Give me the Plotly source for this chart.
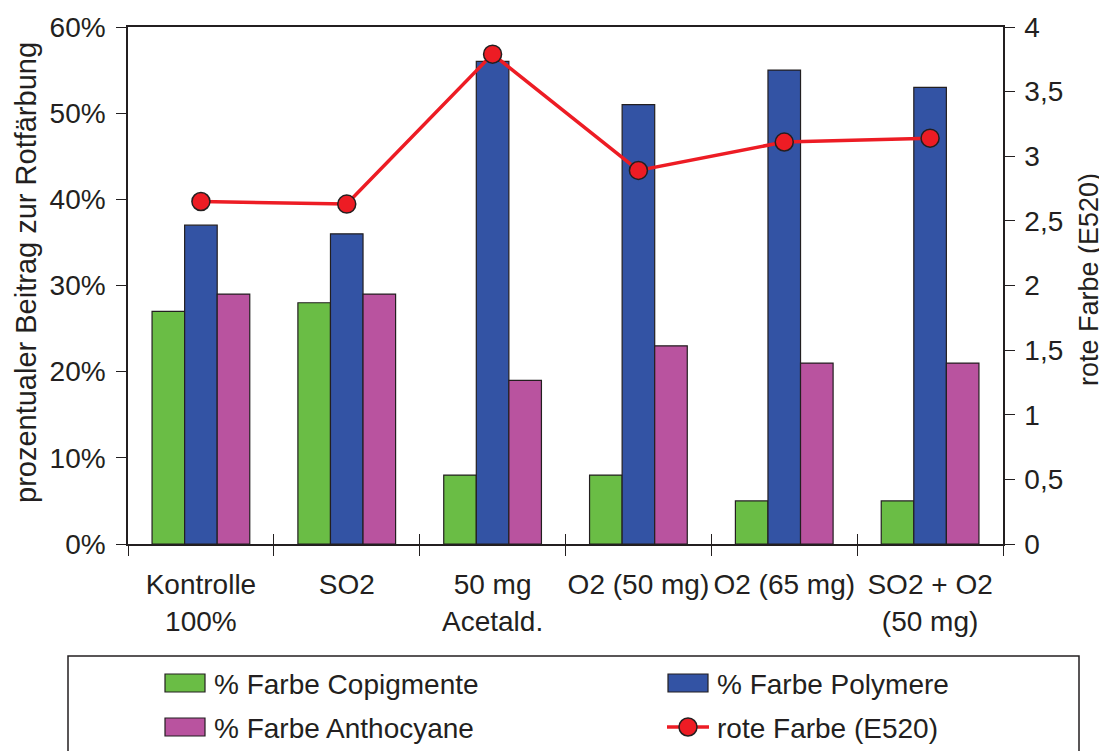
import plotly.graph_objects as go

# ---------------- data ----------------
categories = ["Kontrolle<br>100%", "SO2", "50 mg<br>Acetald.", "O2 (50 mg)", "O2 (65 mg)", "SO2 + O2<br>(50 mg)"]
copigmente = [27, 28, 8, 8, 5, 5]
polymere = [37, 36, 56, 51, 55, 53]
anthocyane = [29, 29, 19, 23, 21, 21]
rote_farbe = [2.65, 2.63, 3.79, 2.89, 3.11, 3.14]
left_ticks = [0, 10, 20, 30, 40, 50, 60]
right_ticks = [0, 0.5, 1, 1.5, 2, 2.5, 3, 3.5, 4]
series_names = ["% Farbe Copigmente", "% Farbe Polymere", "% Farbe Anthocyane", "rote Farbe (E520)"]
left_title = "prozentualer Beitrag zur Rotfärbung"
right_title = "rote Farbe (E520)"

# ---------------- styling ----------------
FONT = "Liberation Sans, Arial, sans-serif"
TXT = "#231f20"
GREEN = "#6abd45"
BLUE = "#3353a4"
PINK = "#b9539f"
RED = "#ed1c24"
FS = 28

OFF = 8  # page body margin
SW, SH = 1107, 751           # screen size
L, R, T, B = 128, 104, 27, 207  # plot area in screen pixels
W, H = SW - OFF, SH - OFF
PW, PH = SW - L - R, SH - T - B

def px(x):
    return (x - L) / PW

def py(y):
    return (SH - B - y) / PH

xpos = list(range(len(categories)))
bounds = [i - 0.5 for i in range(len(categories) + 1)]

fig = go.Figure()
for name, vals, col in [(series_names[0], copigmente, GREEN),
                        (series_names[1], polymere, BLUE),
                        (series_names[2], anthocyane, PINK)]:
    fig.add_trace(go.Bar(x=xpos, y=vals, name=name,
                         marker=dict(color=col, line=dict(color=TXT, width=1.2)),
                         showlegend=False))

fig.add_trace(go.Scatter(x=xpos, y=rote_farbe, name=series_names[3], mode="lines+markers",
                         xaxis="x2", yaxis="y2",
                         line=dict(color=RED, width=3.5),
                         marker=dict(symbol="circle", size=18, color=RED,
                                     line=dict(color=TXT, width=1.5)),
                         showlegend=False))

axis_common = dict(showgrid=False, zeroline=False, linecolor=TXT, linewidth=1.5,
                   automargin=False,
                   tickcolor=TXT, tickwidth=1.3, tickfont=dict(family=FONT, size=FS, color=TXT))

fig.update_layout(
    width=W, height=H,
    margin=dict(l=L - OFF, r=R, t=T - OFF, b=B, pad=0, autoexpand=False),
    paper_bgcolor="white", plot_bgcolor="white",
    separators=",.",
    barmode="group", bargap=0.33, bargroupgap=0,
    font=dict(family=FONT, size=FS, color=TXT),
    xaxis=dict(range=[-0.5, len(categories) - 0.5], tickmode="array", tickvals=xpos,
               ticktext=categories, ticks="", showline=True, mirror=True,
               ticklabelstandoff=15,
               minor=dict(tickmode="array", tickvals=bounds, ticks="outside", ticklen=10,
                          tickcolor=TXT, tickwidth=1.3),
               **axis_common),
    xaxis2=dict(overlaying="x", anchor="y2", side="bottom", automargin=False,
                range=[-0.5, len(categories) - 0.5], tickmode="array", tickvals=bounds,
                ticks="inside", ticklen=10, showticklabels=False, showline=False,
                showgrid=False, zeroline=False, tickcolor=TXT, tickwidth=1.3),
    yaxis=dict(range=[0, 60], tickmode="array", tickvals=left_ticks,
               ticktext=[f"{v}%" for v in left_ticks], ticks="outside", ticklen=10,
               showline=True, ticklabelstandoff=5, **axis_common),
    yaxis2=dict(range=[0, 4], overlaying="y", side="right", anchor="x2", tickmode="array",
                tickvals=right_ticks, ticks="outside", ticklen=10, showline=True,
                ticklabelstandoff=4, **axis_common),
)

annotations = [
    dict(text=left_title, x=px(26), y=py(273), xref="paper", yref="paper", textangle=-90,
         showarrow=False, xanchor="center", yanchor="middle",
         font=dict(family=FONT, size=29, color=TXT)),
    dict(text=right_title, x=px(1089), y=py(280), xref="paper", yref="paper", textangle=-90,
         showarrow=False, xanchor="center", yanchor="middle", borderpad=0,
         font=dict(family=FONT, size=27, color=TXT)),
]

shapes = [
    # legend frame
    dict(type="rect", xref="paper", yref="paper", x0=px(68), x1=px(1079), y0=py(656), y1=py(770),
         line=dict(color=TXT, width=1.5), fillcolor="rgba(0,0,0,0)", layer="above"),
]

legend_items = [
    (series_names[0], GREEN, 165, 683, "box"),
    (series_names[1], BLUE, 668, 683, "box"),
    (series_names[2], PINK, 165, 727, "box"),
    (series_names[3], RED, 668, 727, "line"),
]
for name, col, sx, sy, kind in legend_items:
    if kind == "box":
        shapes.append(dict(type="rect", xref="paper", yref="paper",
                           x0=px(sx), x1=px(sx + 40), y0=py(sy - 9), y1=py(sy + 9),
                           fillcolor=col, line=dict(color=TXT, width=1.2), layer="above"))
    else:
        shapes.append(dict(type="line", xref="paper", yref="paper",
                           x0=px(sx - 1), x1=px(sx + 41), y0=py(sy), y1=py(sy),
                           line=dict(color=col, width=3.5), layer="above"))
        shapes.append(dict(type="circle", xref="paper", yref="paper",
                           x0=px(sx + 11), x1=px(sx + 29), y0=py(sy - 9), y1=py(sy + 9),
                           fillcolor=col, line=dict(color=TXT, width=1.5), layer="above"))
    annotations.append(dict(text=name, x=px(sx + 47), y=py(sy + 1), xref="paper", yref="paper",
                            showarrow=False, xanchor="left", yanchor="middle",
                            font=dict(family=FONT, size=FS, color=TXT)))

fig.update_layout(annotations=annotations, shapes=shapes)

fig.write_html("out.html")
